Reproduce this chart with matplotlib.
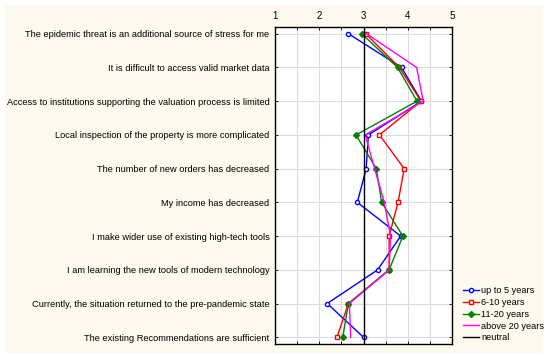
import numpy as np
import matplotlib.pyplot as plt
from matplotlib.patches import Rectangle

plt.rcParams['font.family'] = ['Liberation Sans', 'DejaVu Sans']

statements = [
    "The epidemic threat is an additional source of stress for me",
    "It is difficult to access valid market data",
    "Access to institutions supporting the valuation process is limited",
    "Local inspection of the property is more complicated",
    "The number of new orders has decreased",
    "My income has decreased",
    "I make wider use of existing high-tech tools",
    "I am learning the new tools of modern technology",
    "Currently, the situation returned to the pre-pandemic state",
    "The existing Recommendations are sufficient",
]

up_to_5 = [2.66, 3.86, 4.31, 3.11, 3.06, 2.86, 3.84, 3.32, 2.18, 3.00]
y6_10 = [3.05, 3.81, 4.30, 3.36, 3.92, 3.78, 3.58, 3.58, 2.66, 2.40]
y11_20 = [2.96, 3.77, 4.21, 2.83, 3.29, 3.41, 3.89, 3.58, 2.66, 2.53]
above_20 = [3.07, 4.20, 4.35, 3.04, 3.25, 3.47, 3.61, 3.58, 2.68, 2.71]
neutral = 3

W, H = 550, 356
fig = plt.figure(figsize=(W / 100, H / 100), dpi=100, facecolor='white')
# cream background panel
fig.add_artist(Rectangle((5 / W, 1 - 353 / H), 538 / W, 348 / H,
                         transform=fig.transFigure, facecolor='#fdf9ee',
                         edgecolor='none', zorder=-10))

ax = fig.add_axes([275 / W, 1 - 344 / H, 177 / W, 317 / H])
ax.set_facecolor('white')

ypos = np.arange(len(statements))
ax.plot(up_to_5, ypos, color='#0000ff', lw=1, marker='o', ms=3, mfc='white', mec='#0000ff', mew=1,
        label='up to 5 years')
ax.plot(y6_10, ypos, color='#ff0000', lw=1, marker='s', ms=3, mfc='white', mec='#ff0000', mew=1,
        label='6-10 years')
ax.plot(y11_20, ypos, color='#008000', lw=1, marker='D', ms=3, mfc='#008000', mec='#008000',
        label='11-20 years')
ax.plot(above_20, ypos, color='#ff00ff', lw=1, label='above 20 years')
ax.axvline(neutral, color='black', lw=1, label='neutral')

ax.set_xlim(1, 5)
ax.set_ylim(len(statements) - 0.8, -0.2)
ax.set_xticks([1, 2, 3, 4, 5])
ax.set_xticks(np.arange(1, 5.01, 0.5), minor=True)
ax.xaxis.tick_top()
ax.set_yticks(ypos)
ax.set_yticklabels(statements)
ax.tick_params(axis='x', which='both', top=True, bottom=True, direction='in', length=2,
               labelsize=7, pad=4, width=0.6)
ax.tick_params(axis='y', left=True, right=True, direction='in', length=2, labelsize=6.7,
               pad=4, width=0.6)
ax.grid(True, which='both', axis='x', color='#dcdcdc', lw=0.8)
ax.grid(True, axis='y', color='#dcdcdc', lw=0.8)
ax.set_axisbelow(True)
for s in ax.spines.values():
    s.set_linewidth(1)

ax.legend(loc='lower left', bbox_to_anchor=(458 / W, 1 - 347 / H), bbox_transform=fig.transFigure,
          frameon=False, fontsize=6.6, handlelength=1.8, handletextpad=0.25, labelspacing=0.3,
          borderpad=0)

fig.savefig('out.png', dpi=100, facecolor='white')
